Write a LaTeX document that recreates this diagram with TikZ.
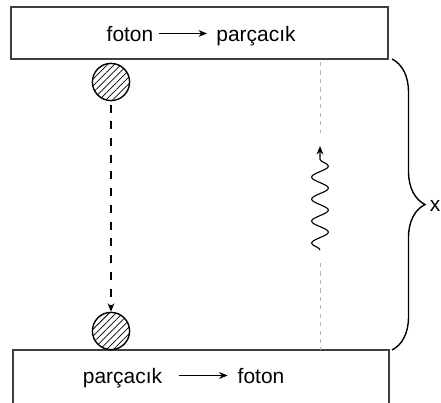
\documentclass[tikz,border=0pt]{standalone}
\usepackage{fontspec}
\setmainfont{Liberation Sans}
\usetikzlibrary{arrows.meta,patterns.meta,decorations.pathmorphing,decorations.pathreplacing}

\begin{document}
\begin{tikzpicture}[x=0.025cm, y=0.025cm, >={Stealth[length=6pt,width=4.8pt]}]
		\tikzstyle{box} = [rectangle,draw=black!75,line width=0.8pt,inner sep=0pt]
		\tikzstyle{word} = [font=\fontsize{14.9}{18}\selectfont,text height=13.4pt,text depth=2.7pt,inner sep=3pt,anchor=base]
		\tikzstyle{ball} = [circle,draw,line width=1pt,minimum size=0.93cm,inner sep=0pt,pattern={Lines[angle=45,distance=3.4pt,line width=0.55pt]}]
		\useasboundingbox (0,0) rectangle (441,-402);
		\node[box,minimum width=9.425cm,minimum height=1.3cm] at (199.5,-33)(top){};
		\node[box,minimum width=9.4cm,minimum height=1.5cm] at (201,-380)(bottom){};
		\node[word] at (130,-41)(foton1){foton};
		\node[word] at (256,-41)(parcacik1){parçacık};
		\node[word] at (122.5,-383)(parcacik2){parçacık};
		\node[word] at (261,-383)(foton2){foton};
		\node[ball] at (111,-82)(ball1){};
		\node[ball] at (111,-331)(ball2){};
		\coordinate (g1) at (320,-62);
		\coordinate (g2) at (320,-133);
		\coordinate (g3) at (320,-263);
		\coordinate (g4) at (320,-350);
		\coordinate (w0) at (320,-250);
		\coordinate (w1) at (320,-146);
		\coordinate (b1) at (392,-59);
		\coordinate (b2) at (392,-350);
		\node[word,anchor=west,inner sep=0pt] at (429.5,-204)(x){x};
		\path[->] (foton1) edge[shorten <=1pt,shorten >=3.5pt] (parcacik1)
		(parcacik2) edge[shorten <=8.5pt,shorten >=4pt] (foton2);
		\path[->,dash pattern=on 5.7pt off 6.2pt,line width=0.8pt] (ball1) edge[shorten <=2.5pt] (ball2);
		\draw[gray!60,dashed,line width=0.6pt] (g1) -- (g2) (g3) -- (g4);
		\draw[->,line width=0.8pt,decorate,decoration={snake,segment length=0.55cm,amplitude=0.21cm,post length=8pt}] (w0) -- (w1);
		\draw[line width=1pt,decorate,decoration={brace,amplitude=0.825cm}] (b1) -- (b2);
		\end{tikzpicture}
\end{document}
